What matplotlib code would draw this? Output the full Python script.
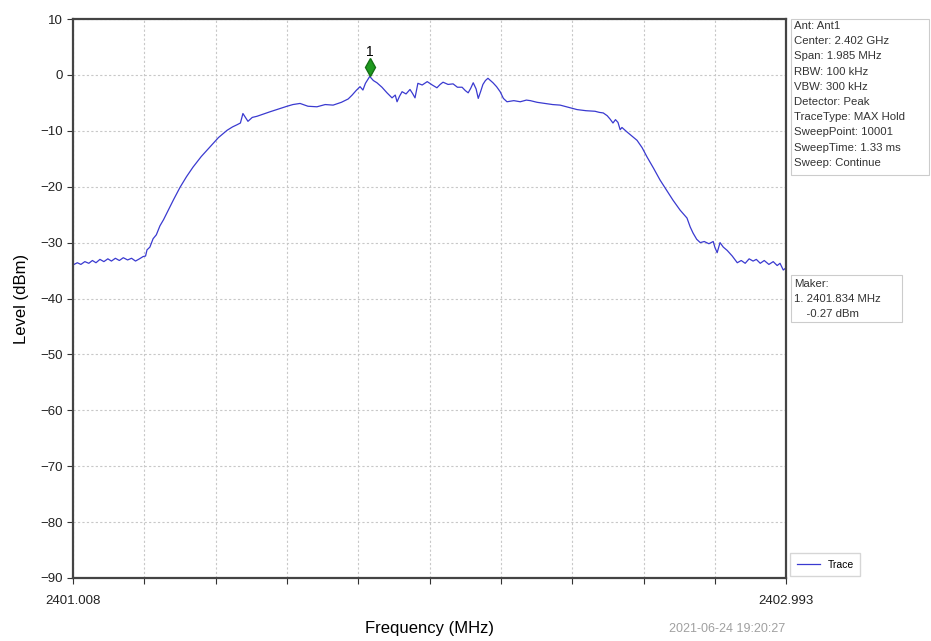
import matplotlib.pyplot as plt
import matplotlib.transforms as mtransforms

plt.rcParams['font.family'] = ['Liberation Sans', 'DejaVu Sans']

# trace (MHz, dBm)
freq = [2401.008, 2401.020, 2401.030, 2401.041, 2401.052, 2401.062, 2401.072, 2401.083,
        2401.094, 2401.105, 2401.115, 2401.126, 2401.137, 2401.148, 2401.160, 2401.171,
        2401.182, 2401.193, 2401.203, 2401.210, 2401.214, 2401.222, 2401.231, 2401.240,
        2401.250, 2401.260, 2401.270, 2401.288, 2401.306, 2401.324, 2401.342, 2401.365,
        2401.389, 2401.413, 2401.437, 2401.452, 2401.465, 2401.474, 2401.481, 2401.488,
        2401.495, 2401.507, 2401.520, 2401.538, 2401.556, 2401.580, 2401.604, 2401.620,
        2401.640, 2401.662, 2401.687, 2401.710, 2401.732, 2401.755, 2401.774, 2401.785,
        2401.796, 2401.807, 2401.815, 2401.822, 2401.834, 2401.844, 2401.854, 2401.868,
        2401.882, 2401.896, 2401.905, 2401.910, 2401.917, 2401.924, 2401.935, 2401.946,
        2401.953, 2401.960, 2401.968, 2401.980, 2401.994, 2402.008, 2402.021, 2402.030,
        2402.038, 2402.052, 2402.066, 2402.078, 2402.091, 2402.100, 2402.108, 2402.115,
        2402.122, 2402.130, 2402.136, 2402.143, 2402.149, 2402.156, 2402.163, 2402.170,
        2402.177, 2402.187, 2402.197, 2402.206, 2402.216, 2402.235, 2402.253, 2402.270,
        2402.281, 2402.300, 2402.322, 2402.343, 2402.364, 2402.388, 2402.411, 2402.436,
        2402.461, 2402.473, 2402.484, 2402.495, 2402.503, 2402.511, 2402.518, 2402.525,
        2402.531, 2402.536, 2402.550, 2402.565, 2402.578, 2402.592, 2402.606, 2402.624,
        2402.642, 2402.660, 2402.678, 2402.698, 2402.717, 2402.726, 2402.734, 2402.744,
        2402.754, 2402.765, 2402.778, 2402.790, 2402.795, 2402.801, 2402.809, 2402.818,
        2402.829, 2402.843, 2402.857, 2402.868, 2402.879, 2402.890, 2402.901, 2402.910,
        2402.921, 2402.932, 2402.945, 2402.957, 2402.968, 2402.976, 2402.985, 2402.993]
level = [-34.0, -33.6, -33.9, -33.4, -33.7, -33.2, -33.6, -33.0,
         -33.4, -32.9, -33.3, -32.8, -33.2, -32.7, -33.1, -32.8,
         -33.3, -32.9, -32.5, -32.4, -31.3, -30.8, -29.3, -28.6,
         -27.0, -25.9, -24.6, -22.3, -20.1, -18.2, -16.5, -14.6,
         -12.9, -11.2, -9.9, -9.3, -8.9, -8.6, -6.9, -7.6,
         -8.3, -7.6, -7.4, -7.0, -6.6, -6.1, -5.6, -5.3,
         -5.1, -5.6, -5.7, -5.3, -5.4, -4.9, -4.3, -3.6,
         -2.8, -2.1, -2.7, -1.5, -0.27, -1.0, -1.4, -2.2,
         -3.2, -4.1, -3.6, -4.8, -3.8, -3.0, -3.4, -2.6,
         -3.3, -4.1, -1.5, -1.8, -1.2, -1.8, -2.3, -1.7,
         -1.3, -1.7, -1.6, -2.2, -2.2, -2.8, -3.2, -2.4,
         -1.4, -2.5, -4.2, -2.9, -1.7, -1.0, -0.6, -1.0,
         -1.4, -2.1, -3.0, -4.2, -4.8, -4.6, -4.8, -4.5,
         -4.6, -4.9, -5.1, -5.3, -5.4, -5.8, -6.2, -6.4,
         -6.5, -6.7, -6.8, -7.3, -7.9, -8.6, -8.0, -8.5,
         -9.8, -9.4, -10.2, -11.0, -11.7, -13.0, -14.7, -16.7,
         -18.8, -20.6, -22.4, -24.2, -25.6, -27.2, -28.3, -29.4,
         -30.0, -29.8, -30.2, -29.8, -30.9, -31.8, -30.0, -30.8,
         -31.4, -32.4, -33.6, -33.2, -33.7, -32.9, -33.3, -33.0,
         -33.7, -33.2, -33.9, -33.4, -34.1, -33.7, -34.9, -34.5]

marker_f = 2401.834
marker_lvl = -0.27

f_start, f_stop = 2401.008, 2402.993
y_ticks = list(range(-90, 11, 10))

info_lines = ["Ant: Ant1", "Center: 2.402 GHz", "Span: 1.985 MHz", "RBW: 100 kHz",
              "VBW: 300 kHz", "Detector: Peak", "TraceType: MAX Hold",
              "SweepPoint: 10001", "SweepTime: 1.33 ms", "Sweep: Continue"]
maker_lines = ["Maker:", "1. 2401.834 MHz", "    -0.27 dBm"]
timestamp = "2021-06-24 19:20:27"

fig = plt.figure(figsize=(9.31, 6.41), dpi=100)
ax = fig.add_axes([0.0784, 0.0983, 0.766, 0.872])

ax.plot(freq, level, color='#3a3ad0', lw=0.9, label='Trace')

# marker diamond sits a little above the peak
off = mtransforms.offset_copy(ax.transData, fig=fig, x=0, y=9, units='dots')
ax.plot(marker_f, marker_lvl, marker='d', ms=9, color='#1e9a1e', mec='#147014', transform=off)
ax.text(marker_f, marker_lvl, '1', transform=mtransforms.offset_copy(ax.transData, fig=fig, x=0, y=17, units='dots'),
        ha='center', va='bottom', fontsize=10)

ax.set_xlim(f_start, f_stop)
ax.set_ylim(-90, 10)
ax.set_yticks(y_ticks)
step = (f_stop - f_start) / 10
ax.set_xticks([f_start + i * step for i in range(11)])
ax.set_xticklabels(['2401.008'] + [''] * 9 + ['2402.993'])
ax.tick_params(labelsize=9.5, length=4, colors='#333333', labelcolor='#222222')
ax.tick_params(axis='x', pad=8)
ax.grid(True, color='#c8c8c8', ls=(0, (2, 2)), lw=0.8)
for s in ax.spines.values():
    s.set_color('#444444')
    s.set_linewidth(1.6)

ax.set_xlabel('Frequency (MHz)', fontsize=12, labelpad=10)
ax.set_ylabel('Level (dBm)', fontsize=12, labelpad=8)

fig.text(785 / 931, 1 - 629 / 641, timestamp, ha='right', va='center', fontsize=9, color='#a0a0a0')

# info panel
bx = 792 / 931
y0 = 1 - 26 / 641
dy = 15.2 / 641
for i, t in enumerate(info_lines):
    fig.text(bx + 0.002, y0 - i * dy, t, fontsize=8.2, va='center', ha='left', color='#333333')
fig.patches.append(plt.Rectangle((bx - 0.001, 1 - 175 / 641), 138 / 931, 156 / 641,
                                 transform=fig.transFigure, fill=False, ec='#cccccc', lw=0.8))

y1 = 1 - 284 / 641
for i, t in enumerate(maker_lines):
    fig.text(bx + 0.002, y1 - i * dy, t, fontsize=8.2, va='center', ha='left', color='#333333')
fig.patches.append(plt.Rectangle((bx - 0.001, 1 - 322 / 641), 111 / 931, 47 / 641,
                                 transform=fig.transFigure, fill=False, ec='#cccccc', lw=0.8))

ax.legend(loc='lower left', bbox_to_anchor=(1.003, 0.0), fontsize=7.5, frameon=True,
          fancybox=False, edgecolor='#cccccc', handlelength=2.2, borderaxespad=0.2,
          borderpad=0.6)

fig.savefig('out.png', dpi=100)
